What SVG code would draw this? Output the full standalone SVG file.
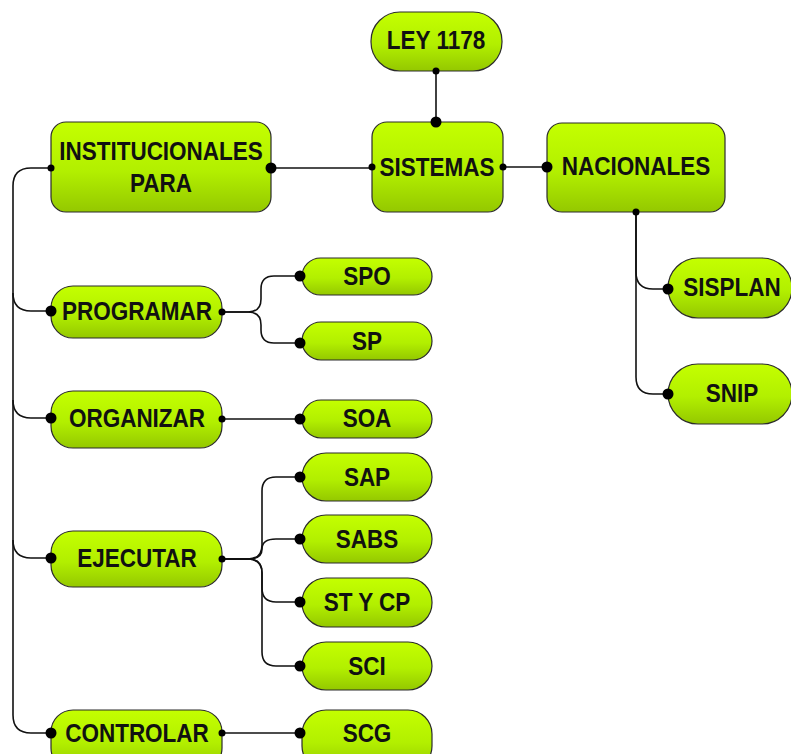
<svg xmlns="http://www.w3.org/2000/svg" width="791" height="754" viewBox="0 0 791 754">
<defs>
<linearGradient id="g" x1="0" y1="0" x2="0" y2="1">
<stop offset="0" stop-color="#c4ff00"/>
<stop offset="0.55" stop-color="#b2ef00"/>
<stop offset="1" stop-color="#94c800"/>
</linearGradient>
<style>
.n{fill:url(#g);stroke:#2b2b2b;stroke-width:1.2}
.t{font-family:"Liberation Sans",Arial,sans-serif;font-weight:bold;font-size:25px;fill:#111;text-anchor:middle}
.c{fill:none;stroke:#111;stroke-width:1.6}
.d{fill:#000}
</style>
</defs>
<rect width="791" height="754" fill="#fff"/>
<g id="connectors">
<path class="c" d="M436,71 V122"/>
<path class="c" d="M271,168 H372"/>
<path class="c" d="M503,167 H547"/>
<path class="c" d="M636,212 V272 Q636,289 653,289 H668"/>
<path class="c" d="M636,212 V377 Q636,394 653,394 H668"/>
<path class="c" d="M51,168 H31 Q13,168 13,186 V715 Q13,733 31,733 H51"/>
<path class="c" d="M13,293 Q13,311 31,311 H51"/>
<path class="c" d="M13,400 Q13,418 31,418 H51"/>
<path class="c" d="M13,540 Q13,558 31,558 H51"/>
<path class="c" d="M222,312 H248 Q261,312 261,299 V289 Q261,276 274,276 H300"/>
<path class="c" d="M222,312 H248 Q261,312 261,325 V330 Q261,343 274,343 H300"/>
<path class="c" d="M222,419 H300"/>
<path class="c" d="M222,559 H248 Q262,559 262,545 V491 Q262,477 276,477 H300"/>
<path class="c" d="M222,559 H248 Q262,559 262,549 Q262,539 276,539 H300"/>
<path class="c" d="M222,559 H248 Q262,559 262,573 V588 Q262,602 276,602 H300"/>
<path class="c" d="M222,559 H248 Q262,559 262,573 V652 Q262,666 276,666 H300"/>
<path class="c" d="M222,733 H300"/>
</g>
<g id="ley"><rect class="n" x="371" y="12" width="131" height="59" rx="29"/><text class="t" transform="translate(436,49) scale(0.9,1)">LEY 1178</text></g>
<g id="sistemas"><rect class="n" x="372" y="122" width="131" height="90" rx="15"/><text class="t" transform="translate(437,176) scale(0.9,1)">SISTEMAS</text></g>
<g id="institucionales"><rect class="n" x="51" y="122" width="220" height="90" rx="15"/><text class="t" transform="translate(161,160) scale(0.9,1)">INSTITUCIONALES</text><text class="t" transform="translate(161,192) scale(0.9,1)">PARA</text></g>
<g id="nacionales"><rect class="n" x="547" y="123" width="178" height="89" rx="15"/><text class="t" transform="translate(636,175) scale(0.9,1)">NACIONALES</text></g>
<g id="sisplan"><rect class="n" x="668" y="258" width="124" height="60" rx="30"/><text class="t" transform="translate(732,296) scale(0.9,1)">SISPLAN</text></g>
<g id="snip"><rect class="n" x="668" y="364" width="124" height="60" rx="30"/><text class="t" transform="translate(732,402) scale(0.9,1)">SNIP</text></g>
<g id="programar"><rect class="n" x="51" y="286" width="171" height="52" rx="22"/><text class="t" transform="translate(137,320) scale(0.9,1)">PROGRAMAR</text></g>
<g id="organizar"><rect class="n" x="51" y="391" width="171" height="57" rx="22"/><text class="t" transform="translate(137,427) scale(0.9,1)">ORGANIZAR</text></g>
<g id="ejecutar"><rect class="n" x="51" y="531" width="171" height="56" rx="22"/><text class="t" transform="translate(137,567) scale(0.9,1)">EJECUTAR</text></g>
<g id="controlar"><rect class="n" x="51" y="710" width="171" height="60" rx="22"/><text class="t" transform="translate(137,742) scale(0.9,1)">CONTROLAR</text></g>
<g id="spo"><rect class="n" x="302" y="258" width="130" height="37" rx="18.5"/><text class="t" transform="translate(367,285) scale(0.9,1)">SPO</text></g>
<g id="sp"><rect class="n" x="302" y="322" width="130" height="38" rx="19"/><text class="t" transform="translate(367,350) scale(0.9,1)">SP</text></g>
<g id="soa"><rect class="n" x="302" y="400" width="130" height="38" rx="19"/><text class="t" transform="translate(367,427) scale(0.9,1)">SOA</text></g>
<g id="sap"><rect class="n" x="302" y="453" width="130" height="48" rx="24"/><text class="t" transform="translate(367,486) scale(0.9,1)">SAP</text></g>
<g id="sabs"><rect class="n" x="302" y="515" width="130" height="48" rx="24"/><text class="t" transform="translate(367,548) scale(0.9,1)">SABS</text></g>
<g id="stycp"><rect class="n" x="302" y="578" width="130" height="49" rx="24"/><text class="t" transform="translate(367,611) scale(0.9,1)">ST Y CP</text></g>
<g id="sci"><rect class="n" x="302" y="642" width="130" height="48" rx="24"/><text class="t" transform="translate(367,675) scale(0.9,1)">SCI</text></g>
<g id="scg"><rect class="n" x="302" y="710" width="130" height="60" rx="24"/><text class="t" transform="translate(367,742) scale(0.9,1)">SCG</text></g>
<g id="dots">
<circle class="d" cx="436" cy="71" r="3.5"/><circle class="d" cx="436" cy="122" r="5.5"/>
<circle class="d" cx="271" cy="168" r="5.5"/><circle class="d" cx="372" cy="167" r="3.5"/>
<circle class="d" cx="503" cy="167" r="3.5"/><circle class="d" cx="547" cy="167" r="5.5"/>
<circle class="d" cx="636" cy="212" r="3.5"/><circle class="d" cx="668" cy="289" r="5.5"/><circle class="d" cx="668" cy="394" r="5.5"/>
<circle class="d" cx="51" cy="168" r="3.5"/><circle class="d" cx="51" cy="311" r="5.5"/><circle class="d" cx="51" cy="418" r="5.5"/><circle class="d" cx="51" cy="558" r="5.5"/><circle class="d" cx="51" cy="733" r="5.5"/>
<circle class="d" cx="222" cy="312" r="3.5"/><circle class="d" cx="222" cy="419" r="3.5"/><circle class="d" cx="222" cy="559" r="3.5"/><circle class="d" cx="222" cy="733" r="3.5"/>
<circle class="d" cx="300" cy="276" r="5.5"/><circle class="d" cx="300" cy="343" r="5.5"/><circle class="d" cx="300" cy="419" r="5.5"/>
<circle class="d" cx="300" cy="477" r="5.5"/><circle class="d" cx="300" cy="539" r="5.5"/><circle class="d" cx="300" cy="602" r="5.5"/><circle class="d" cx="300" cy="666" r="5.5"/><circle class="d" cx="300" cy="733" r="5.5"/>
</g>
</svg>
